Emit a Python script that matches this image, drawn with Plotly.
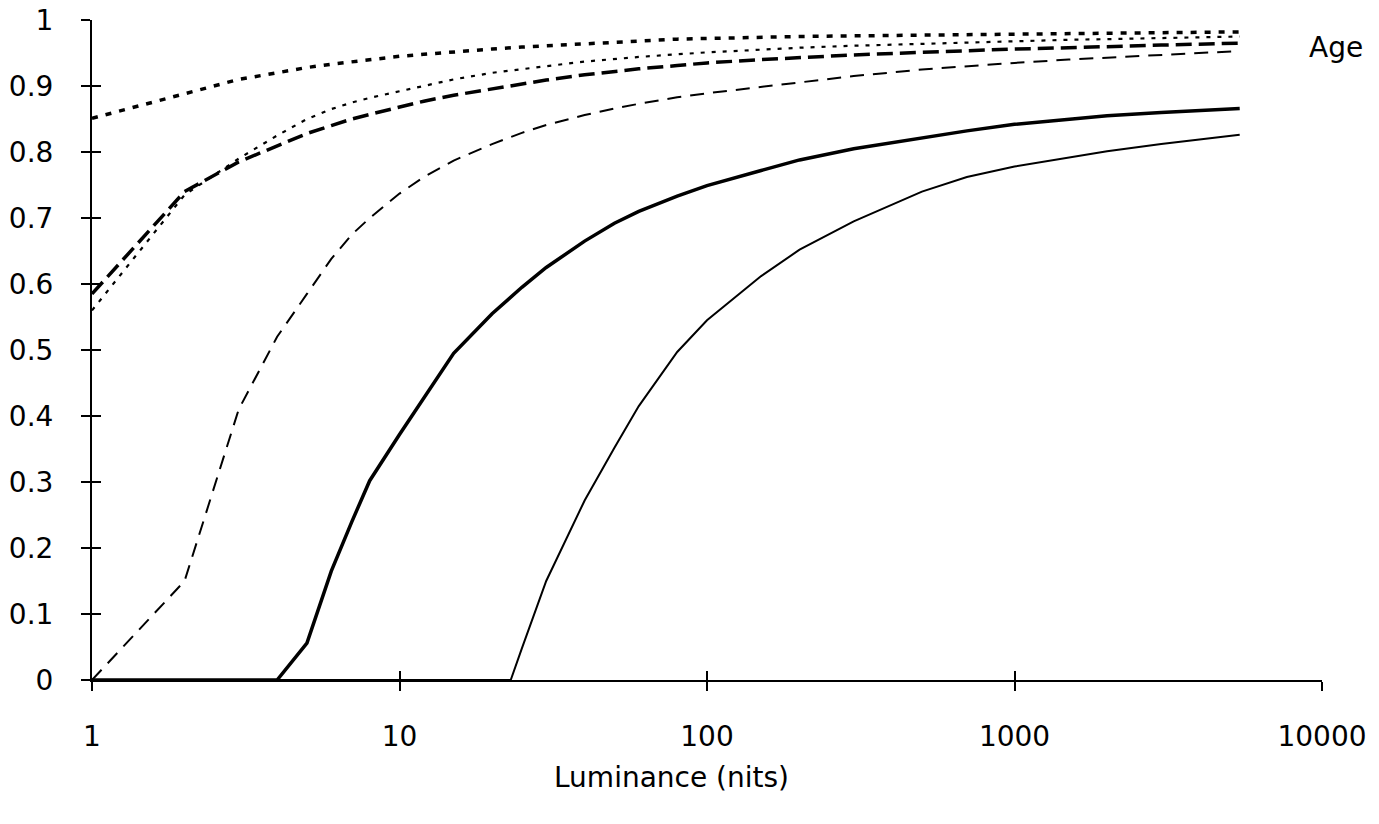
import plotly.graph_objects as go

# Luminance values (nits)
lum = [1, 2, 3, 4, 5, 6, 7, 8, 10, 12, 15, 20, 25, 30, 40, 50, 60, 80, 100,
       150, 200, 300, 500, 700, 1000, 1500, 2000, 3000, 5400]

age_a = [0.851, 0.889, 0.910, 0.920, 0.928, 0.933, 0.937, 0.940, 0.945, 0.948,
         0.952, 0.956, 0.959, 0.961, 0.964, 0.967, 0.969, 0.971, 0.972, 0.974,
         0.975, 0.976, 0.977, 0.978, 0.979, 0.980, 0.980, 0.981, 0.982]

age_b = [0.560, 0.735, 0.790, 0.825, 0.850, 0.865, 0.875, 0.882, 0.892, 0.900,
         0.910, 0.920, 0.926, 0.930, 0.937, 0.941, 0.944, 0.948, 0.951, 0.955,
         0.958, 0.961, 0.964, 0.966, 0.968, 0.970, 0.971, 0.973, 0.975]

age_c = [0.585, 0.740, 0.785, 0.810, 0.828, 0.840, 0.850, 0.857, 0.868, 0.877,
         0.886, 0.896, 0.903, 0.909, 0.917, 0.922, 0.926, 0.931, 0.935, 0.940,
         0.943, 0.947, 0.951, 0.954, 0.956, 0.958, 0.960, 0.962, 0.965]

age_d = [0.000, 0.150, 0.410, 0.520, 0.585, 0.638, 0.675, 0.700, 0.737, 0.762,
         0.787, 0.812, 0.829, 0.841, 0.856, 0.866, 0.873, 0.883, 0.889, 0.899,
         0.906, 0.915, 0.925, 0.930, 0.935, 0.940, 0.943, 0.947, 0.953]

age_e = [0.000, 0.000, 0.000, 0.000, 0.056, 0.165, 0.240, 0.302, 0.372, 0.428,
         0.495, 0.555, 0.595, 0.625, 0.665, 0.692, 0.710, 0.733, 0.749, 0.772,
         0.788, 0.805, 0.822, 0.832, 0.842, 0.850, 0.855, 0.860, 0.866]

lum_f = [1, 23, 25, 30, 40, 50, 60, 80, 100, 150, 200, 300, 500, 700, 1000,
         1500, 2000, 3000, 5400]
age_f = [0.000, 0.000, 0.048, 0.150, 0.272, 0.352, 0.415, 0.497, 0.545, 0.612,
         0.652, 0.695, 0.740, 0.762, 0.778, 0.792, 0.801, 0.812, 0.826]

x_ticks = [1, 10, 100, 1000, 10000]
x_ticktext = ["1", "10", "100", "1000", "10000"]
y_ticks = [0, 0.1, 0.2, 0.3, 0.4, 0.5, 0.6, 0.7, 0.8, 0.9, 1]
y_ticktext = ["0", "0.1", "0.2", "0.3", "0.4", "0.5", "0.6", "0.7", "0.8", "0.9", "1"]

FONT = "DejaVu Sans, Liberation Sans, Arial, sans-serif"
FS = 28

fig = go.Figure()

series = [
    (lum, age_a, 3.5, "6px,8px"),
    (lum, age_b, 2.2, "4px,7px"),
    (lum, age_c, 3.5, "16px,7px"),
    (lum, age_d, 2.0, "14px,9px"),
    (lum, age_e, 3.5, "solid"),
    (lum_f, age_f, 2.0, "solid"),
]
for xs, ys, w, d in series:
    fig.add_trace(go.Scatter(x=xs, y=ys, mode="lines",
                             line=dict(color="black", width=w, dash=d),
                             showlegend=False, hoverinfo="skip"))

# invisible trace to anchor the overlay axes (inner tick halves)
fig.add_trace(go.Scatter(x=[], y=[], xaxis="x2", yaxis="y2", showlegend=False))

axis_common = dict(showgrid=False, zeroline=False, color="black", automargin=False)

fig.update_layout(
    width=1379, height=824,
    paper_bgcolor="white", plot_bgcolor="white",
    margin=dict(l=92, r=57, t=20, b=144),
    font=dict(family=FONT, size=FS, color="black"),
    xaxis=dict(type="log", range=[0, 4], tickvals=x_ticks, ticktext=x_ticktext,
               ticks="outside", ticklen=9, tickwidth=1.5, showline=True,
               linewidth=2, linecolor="black", ticklabelstandoff=21,
               tickfont=dict(size=FS, family=FONT), **axis_common),
    yaxis=dict(range=[0, 1], tickvals=y_ticks, ticktext=y_ticktext,
               ticks="outside", ticklen=9, tickwidth=1.5, showline=True,
               linewidth=2, linecolor="black", ticklabelstandoff=22,
               tickfont=dict(size=FS, family=FONT), **axis_common),
    xaxis2=dict(type="log", range=[0, 4], overlaying="x", anchor="y2",
                tickvals=x_ticks[1:], ticks="inside", ticklen=9, tickwidth=1.5,
                showticklabels=False, showline=False, side="bottom", **axis_common),
    yaxis2=dict(range=[0, 1], overlaying="y", anchor="x2", tickvals=y_ticks,
                ticks="inside", ticklen=9, tickwidth=1.5, showticklabels=False,
                showline=False, side="left", **axis_common),
    annotations=[
        dict(text="Age", xref="paper", yref="paper", x=1.011, y=0.958,
             xanchor="center", yanchor="middle", showarrow=False,
             font=dict(size=FS, family=FONT)),
        dict(text="Luminance (nits)", xref="paper", yref="paper", x=0.471, y=-0.147,
             xanchor="center", yanchor="middle", showarrow=False,
             font=dict(size=FS, family=FONT)),
    ],
)

fig.write_html("out.html")
